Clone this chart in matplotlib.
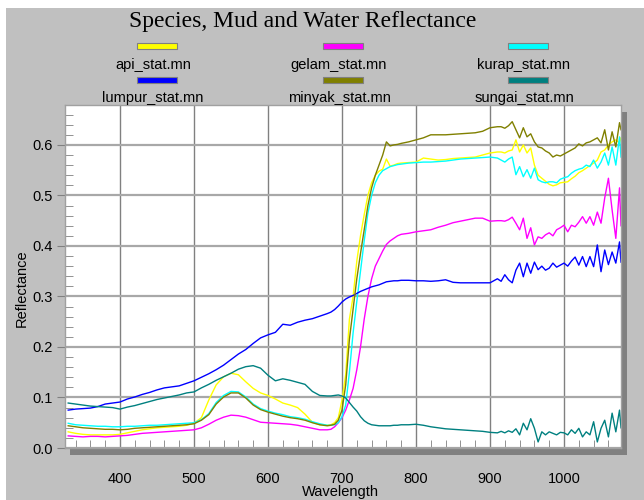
import matplotlib.pyplot as plt
from matplotlib.patches import Rectangle
from matplotlib.ticker import MultipleLocator

# wavelength grid (nm), shared by all spectra
wl = [330, 340, 350, 360, 370, 380, 390, 400, 410, 420, 430, 440, 450, 460, 470, 480, 490, 500,
      510, 520, 530, 540, 550, 560, 570, 580, 590, 600, 610, 620, 630, 640, 650, 660, 670, 680,
      685, 690, 695, 700, 705, 710, 715, 720, 725, 730, 735, 740, 745, 750, 755, 760, 765, 770, 775, 780,
      790, 800, 810, 820, 830, 840, 850, 860, 870, 880, 890, 900, 910,
      915, 920, 925, 930, 935, 940, 945, 950, 955, 960, 965, 970, 975, 980, 985, 990, 995, 1000,
      1005, 1010, 1015, 1020, 1025, 1030, 1035, 1040, 1045, 1050, 1055, 1060, 1065, 1070, 1075, 1077]

api = [.032, .029, .027, .026, .026, .026, .026, .027, .030, .033, .036, .038, .040, .041, .042, .043, .045, .049,
       .060, .095, .125, .141, .148, .145, .131, .118, .109, .104, .097, .089, .085, .080, .067, .051, .046, .045,
       .046, .050, .060, .095, .145, .255, .300, .370, .420, .462, .500, .525, .540, .548, .552, .572, .558, .560, .563, .564,
       .565, .566, .574, .572, .570, .571, .573, .574, .575, .576, .580, .584, .586,
       .586, .584, .588, .590, .610, .586, .600, .584, .594, .560, .540, .534, .528, .522, .519, .521, .525, .526,
       .527, .533, .538, .545, .549, .554, .559, .564, .570, .586, .590, .600, .606, .610, .604, .614]

gelam = [.024, .023, .022, .023, .023, .022, .023, .024, .025, .027, .029, .030, .031, .032, .033, .034, .035, .036,
         .040, .047, .055, .061, .065, .064, .061, .056, .051, .050, .049, .048, .047, .045, .042, .039, .036, .036,
         .037, .042, .050, .060, .075, .095, .118, .155, .200, .255, .300, .335, .360, .375, .390, .403, .410, .415, .420, .423,
         .425, .428, .430, .432, .437, .441, .446, .449, .452, .455, .455, .449, .450,
         .450, .449, .452, .457, .445, .432, .455, .415, .436, .402, .418, .415, .422, .426, .420, .432, .436, .441,
         .428, .441, .438, .447, .458, .445, .458, .441, .467, .445, .495, .534, .471, .415, .515, .440]

kurap = [.049, .046, .045, .044, .043, .043, .042, .042, .043, .043, .044, .045, .045, .046, .047, .048, .049, .050,
         .056, .068, .090, .104, .112, .111, .101, .087, .078, .073, .069, .066, .062, .060, .057, .052, .048, .045,
         .045, .046, .050, .062, .085, .150, .228, .290, .350, .410, .465, .500, .525, .540, .549, .553, .557, .559, .561, .562,
         .564, .565, .566, .566, .567, .568, .570, .572, .573, .574, .575, .576, .574,
         .570, .566, .572, .576, .541, .557, .537, .551, .534, .554, .531, .527, .525, .527, .527, .525, .532, .535,
         .537, .544, .549, .552, .554, .560, .557, .570, .554, .566, .584, .560, .596, .560, .616, .576]

lumpur = [.075, .077, .078, .079, .082, .087, .089, .091, .097, .101, .106, .110, .115, .119, .121, .123, .128, .133,
          .140, .147, .155, .164, .175, .186, .195, .207, .218, .224, .229, .245, .243, .249, .253, .256, .261, .266,
          .269, .274, .281, .289, .295, .299, .302, .306, .310, .313, .316, .319, .321, .323, .326, .329, .330, .331, .331, .332,
          .332, .331, .331, .330, .331, .333, .328, .327, .327, .327, .327, .327, .335,
          .330, .343, .333, .327, .352, .366, .339, .366, .346, .368, .353, .360, .352, .356, .366, .358, .362, .366,
          .360, .370, .378, .362, .379, .359, .379, .359, .402, .349, .392, .363, .388, .366, .408, .368]

minyak = [.044, .042, .040, .039, .038, .037, .037, .036, .037, .039, .040, .041, .042, .043, .044, .045, .046, .048,
          .055, .066, .087, .101, .109, .109, .099, .085, .076, .071, .067, .063, .060, .058, .055, .050, .046, .044,
          .045, .047, .055, .075, .125, .215, .275, .335, .385, .432, .480, .515, .540, .560, .580, .606, .598, .600, .601, .603,
          .606, .610, .614, .620, .620, .620, .621, .622, .623, .624, .627, .634, .636,
          .636, .633, .638, .646, .630, .614, .634, .616, .622, .606, .596, .594, .588, .584, .576, .580, .578, .582,
          .586, .590, .594, .602, .598, .604, .606, .610, .614, .604, .630, .590, .626, .596, .644, .630]

sungai = [.089, .087, .085, .083, .082, .081, .080, .077, .081, .084, .088, .092, .096, .099, .102, .105, .109, .111,
          .119, .126, .134, .141, .148, .156, .161, .163, .158, .144, .133, .137, .134, .130, .126, .112, .104, .103,
          .103, .104, .105, .103, .099, .090, .081, .073, .062, .054, .049, .046, .045, .044, .044, .044, .044, .045, .045, .046,
          .046, .047, .045, .042, .040, .038, .037, .036, .035, .034, .033, .031, .030,
          .033, .030, .034, .031, .038, .026, .049, .036, .058, .039, .012, .032, .026, .032, .029, .026, .031, .030,
          .026, .036, .029, .039, .022, .032, .026, .052, .012, .039, .055, .022, .069, .032, .075, .040]

names = ["api_stat.mn", "gelam_stat.mn", "kurap_stat.mn",
         "lumpur_stat.mn", "minyak_stat.mn", "sungai_stat.mn"]
colors = ["#ffff00", "#ff00ff", "#00ffff", "#0000ff", "#808000", "#008080"]
series = [api, gelam, kurap, lumpur, minyak, sungai]

W, H = 644, 500
fig = plt.figure(figsize=(W / 100, H / 100), dpi=100, facecolor="white")

# gray panel and drop shadow, in pixel coords from top-left
def px_rect(x0, y0, x1, y1, color, z):
    fig.add_artist(Rectangle((x0 / W, 1 - y1 / H), (x1 - x0) / W, (y1 - y0) / H,
                             transform=fig.transFigure, facecolor=color,
                             edgecolor="none", zorder=z))

px_rect(6, 8, W, H, "#c0c0c0", -10)
px_rect(70, 112, 627, 455, "#808080", -9)

ax = fig.add_axes([65 / W, 1 - 448 / H, 556 / W, 343 / H])
ax.set_facecolor("white")

for vals, col in zip(series, colors):
    ax.plot(wl, vals, color=col, lw=1.0)

ax.set_xlim(325.7, 1077)
ax.set_ylim(0, 0.679)
ax.xaxis.set_major_locator(MultipleLocator(100))
ax.xaxis.set_minor_locator(MultipleLocator(20))
ax.yaxis.set_major_locator(MultipleLocator(0.1))
ax.yaxis.set_minor_locator(MultipleLocator(0.02))
ax.xaxis.grid(True, color="#808080", lw=1)
ax.yaxis.grid(True, color="#a8a8a8", lw=1.6)
ax.set_axisbelow(True)

lab_font = {"family": "Liberation Sans", "size": 10.5}
ax.tick_params(axis="x", which="major", length=0, pad=17, labelsize=10.5)
ax.tick_params(axis="x", which="minor", direction="in", length=6, color="#808080")
ax.tick_params(axis="y", which="major", direction="out", length=6, color="#808080", pad=3, labelsize=10.5)
ax.tick_params(axis="y", which="minor", direction="in", length=6, color="#808080")
for lab in ax.get_xticklabels() + ax.get_yticklabels():
    lab.set_fontfamily("Liberation Sans")
ax.yaxis.set_major_formatter(plt.FuncFormatter(lambda v, p: f"{v:.1f}"))

for sp in ax.spines.values():
    sp.set_color("#a0a0a0")
    sp.set_linewidth(1)

fig.text(303 / W, 1 - 22 / H, "Species, Mud and Water Reflectance", ha="center", va="center",
         family="Liberation Serif", size=17)

# legend: swatch above name, 3 columns x 2 rows
col_x = [157, 343, 528]
sw_y = [46, 80]
txt_y = [65, 98]
for i, (nm, col) in enumerate(zip(names, colors)):
    r, c = divmod(i, 3)
    fig.add_artist(Rectangle(((col_x[c] - 20) / W, 1 - (sw_y[r] + 3) / H), 40 / W, 6 / H,
                             transform=fig.transFigure, facecolor=col,
                             edgecolor="#808080", lw=0.8))
    fig.text((col_x[c] - 4) / W, 1 - txt_y[r] / H, nm, ha="center", va="center", **lab_font)

fig.text(22 / W, 1 - 288 / H, "Reflectance", rotation=90, ha="center", va="center", **lab_font)
fig.text(340 / W, 1 - 492 / H, "Wavelength", ha="center", va="center", **lab_font)

fig.savefig("out.png", dpi=100, facecolor=fig.get_facecolor())
